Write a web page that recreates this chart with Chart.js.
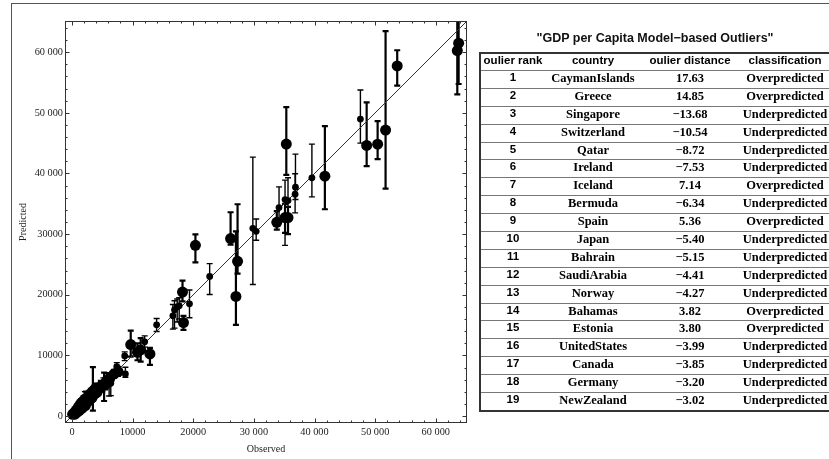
<!DOCTYPE html>
<html><head><meta charset="utf-8">
<script src="https://cdn.jsdelivr.net/npm/chart.js@4.4.1/dist/chart.umd.min.js"></script>
<style>
html,body{margin:0;padding:0;background:#fff;width:829px;height:459px;overflow:hidden;}
#wrap{position:relative;width:829px;height:459px;overflow:hidden;}
#c{position:absolute;left:0;top:0;}
#frame{position:absolute;left:11px;top:3px;width:900px;height:500px;border-left:1.5px solid #555;border-top:1.5px solid #555;}
#ttl{position:absolute;left:479px;width:352px;top:31px;text-align:center;font:bold 12.5px "Liberation Sans",Arial,sans-serif;color:#111;white-space:nowrap;}
#tbl{position:absolute;left:479px;top:52px;width:360px;border-top:2px solid #333;border-left:2px solid #333;border-bottom:2px solid #333;}
.row{display:flex;height:16.9px;line-height:16.9px;border-top:1px solid #777;white-space:nowrap;}
.row.hd{border-top:none;height:16px;line-height:16px;}
.row div{text-align:center;}
.c1{width:64px;font:bold 11.5px "Liberation Sans",Arial,sans-serif;}
.c2{width:96px;}
.c3{width:98px;}
.c4{width:92px;}
.row .s{font:bold 12.5px "Liberation Serif","Times New Roman",serif;}
.hd div{font:bold 11.5px "Liberation Sans",Arial,sans-serif;}
</style>
</head>
<body>
<div id="wrap">
<div id="frame"></div>
<canvas id="c" width="829" height="459"></canvas>
<div id="ttl"></div>
<div id="tbl"></div>
</div>
<script>
// ---------- tick labels ----------
const tickValues = [0, 10000, 20000, 30000, 40000, 50000, 60000];
const xTickLabels = ['0', '10000', '20000', '30 000', '40 000', '50 000', '60 000'];
const yTickLabels = ['0', '10000', '20000', '30000', '40 000', '50 000', '60 000'];

// ---------- group A (large markers): observed, predicted, lower, upper ----------
const groupAObserved = [48600, 50410, 51720, 53640, 63770, 63550, 35350, 41710, 33780, 35140, 35630, 26160, 27310, 27040, 20360, 18230, 18390, 9690, 11330, 12860, 10800, 7600, 6950, 5750, 5300, 4760, 4220, 3660, 3450, 3120, 2680, 2300, 1920, 1480, 1100, 710, 380, 110, 6200, 2500, 2900, 3300, 3800, 4100, 5500, 2200, 1700, 800, 1200, 500];
const groupAPredicted = [44630, 44840, 47160, 57740, 61490, 60280, 44850, 39560, 31950, 32730, 32730, 29260, 25510, 19720, 28150, 20450, 15420, 11790, 10910, 10250, 10500, 7320, 6940, 5840, 5120, 4840, 4580, 4300, 4020, 3750, 3190, 2920, 2530, 2100, 1540, 990, 550, 280, 6100, 2300, 2600, 3000, 3700, 3900, 5200, 1700, 1300, 600, 900, 300];
const groupALower = [41200, 42370, 37520, 54500, 54760, 53060, 39780, 34100, 30750, 30200, 30000, 28270, 23500, 15040, 25340, 18900, 14220, 9800, 8980, 8430, 9200, 6600, 6300, 4840, 2480, 4000, 3700, 3500, 880, 2800, 2400, 2000, 1800, 1400, 900, 500, 200, 0, 5500, 1700, 2000, 2500, 3100, 3300, 4400, 1200, 900, 300, 600, 100];
const groupAUpper = [51740, 48650, 63470, 60330, 68000, 68000, 50960, 47820, 33800, 35000, 34500, 33610, 34930, 30470, 29970, 22320, 16530, 14100, 12840, 11240, 12000, 8100, 7600, 7060, 7160, 5800, 5300, 5000, 8050, 4500, 4000, 4020, 3300, 2800, 2200, 1500, 900, 500, 6700, 2900, 3300, 3600, 4300, 4500, 6000, 2300, 1800, 900, 1300, 600];

// ---------- group B (small markers) ----------
const groupBObserved = [47570, 36860, 36800, 39570, 34150, 35140, 35630, 29830, 30380, 22710, 19380, 16640, 16910, 17350, 17680, 13960, 11990, 8700, 8810, 7390, 6400, 6130, 4500, 5000, 6000, 3000, 4000, 5200, 2130, 600, 900, 1300, 1700, 2000, 300];
const groupBPredicted = [48980, 37740, 36580, 39290, 34380, 35700, 35540, 30960, 30470, 23030, 18510, 16530, 17520, 17970, 18180, 15040, 12230, 9920, 6940, 8150, 5400, 5500, 4400, 4600, 5500, 3300, 4800, 5600, 2700, 400, 800, 1200, 1600, 2100, 500];
const groupBLower = [45010, 35700, 33500, 36150, 31900, 28150, 30080, 21700, 28980, 20050, 16200, 14330, 14500, 15500, 16000, 13940, 11360, 9140, 6400, 7500, 3360, 3300, 3800, 4000, 4900, 2700, 4200, 5000, 1540, 150, 500, 900, 1300, 1700, 200];
const groupBUpper = [53770, 43190, 39950, 44850, 37800, 38900, 39290, 42700, 32500, 25130, 20780, 18400, 19000, 19300, 19500, 16080, 13220, 10580, 8050, 8810, 6800, 6700, 5000, 5300, 6100, 3900, 5400, 6300, 4020, 700, 1100, 1500, 1900, 2500, 800];

// ---------- table ----------
const tableTitle = '"GDP per Capita Model\u2212based Outliers"';
const tableHeaders = ['oulier rank', 'country', 'oulier distance', 'classification'];
const ranks = [1, 2, 3, 4, 5, 6, 7, 8, 9, 10, 11, 12, 13, 14, 15, 16, 17, 18, 19];
const countries = ['CaymanIslands', 'Greece', 'Singapore', 'Switzerland', 'Qatar', 'Ireland', 'Iceland', 'Bermuda', 'Spain', 'Japan', 'Bahrain', 'SaudiArabia', 'Norway', 'Bahamas', 'Estonia', 'UnitedStates', 'Canada', 'Germany', 'NewZealand'];
const distances = ['17.63', '14.85', '\u221213.68', '\u221210.54', '\u22128.72', '\u22127.53', '7.14', '\u22126.34', '5.36', '\u22125.40', '\u22125.15', '\u22124.41', '\u22124.27', '3.82', '3.80', '\u22123.99', '\u22123.85', '\u22123.20', '\u22123.02'];
const classifications = ['Overpredicted', 'Overpredicted', 'Underpredicted', 'Underpredicted', 'Underpredicted', 'Underpredicted', 'Overpredicted', 'Underpredicted', 'Overpredicted', 'Underpredicted', 'Underpredicted', 'Underpredicted', 'Underpredicted', 'Overpredicted', 'Overpredicted', 'Underpredicted', 'Underpredicted', 'Underpredicted', 'Underpredicted'];

const axisMin = -1150, axisMax = 65150;

// build table
document.getElementById('ttl').textContent = tableTitle;
const tbl = document.getElementById('tbl');
function mkRow(cells, cls, serif) {
  const r = document.createElement('div');
  r.className = 'row' + (cls ? ' ' + cls : '');
  cells.forEach((t, i) => {
    const d = document.createElement('div');
    d.className = 'c' + (i + 1) + (serif && i > 0 ? ' s' : '');
    d.textContent = t;
    r.appendChild(d);
  });
  tbl.appendChild(r);
}
mkRow(tableHeaders, 'hd', false);
ranks.forEach((rk, i) => mkRow([String(rk), countries[i], distances[i], classifications[i]], '', true));

function pts(xs, ys) { return xs.map((x, i) => ({ x: x, y: ys[i] })); }

const errorBars = {
  id: 'errorBars',
  beforeDatasetsDraw(chart) {
    const { ctx, chartArea: a, scales } = chart;
    const sx = scales.x, sy = scales.y;
    ctx.save();
    ctx.beginPath();
    ctx.rect(a.left, a.top, a.right - a.left, a.bottom - a.top);
    ctx.clip();
    ctx.strokeStyle = '#000';
    const groups = [
      [groupAObserved, groupALower, groupAUpper, 2.2],
      [groupBObserved, groupBLower, groupBUpper, 1.4]
    ];
    groups.forEach(([xs, lo, hi, w]) => {
      ctx.lineWidth = w;
      xs.forEach((xv, i) => {
        const px = sx.getPixelForValue(xv);
        const pl = sy.getPixelForValue(lo[i]);
        const ph = sy.getPixelForValue(hi[i]);
        ctx.beginPath();
        ctx.moveTo(px, pl); ctx.lineTo(px, ph);
        ctx.moveTo(px - 3, pl); ctx.lineTo(px + 3, pl);
        ctx.moveTo(px - 3, ph); ctx.lineTo(px + 3, ph);
        ctx.stroke();
      });
    });
    ctx.restore();
  }
};

const frameTicks = {
  id: 'frameTicks',
  afterDraw(chart) {
    const { ctx, chartArea: a, scales } = chart;
    const sx = scales.x, sy = scales.y;
    ctx.save();
    ctx.strokeStyle = '#333';
    ctx.lineWidth = 1;
    ctx.strokeRect(Math.round(a.left) + 0.5, Math.round(a.top) + 0.5, Math.round(a.right - a.left) - 1, Math.round(a.bottom - a.top) - 1);
    ctx.beginPath();
    for (let v = 0; v <= 64000; v += 2000) {
      const len = v % 10000 === 0 ? 4.5 : 2.5;
      const px = Math.round(sx.getPixelForValue(v)) + 0.5;
      ctx.moveTo(px, a.bottom); ctx.lineTo(px, a.bottom - len);
      ctx.moveTo(px, a.top); ctx.lineTo(px, a.top + len);
      const py = Math.round(sy.getPixelForValue(v)) + 0.5;
      ctx.moveTo(a.left, py); ctx.lineTo(a.left + len, py);
      ctx.moveTo(a.right, py); ctx.lineTo(a.right - len, py);
    }
    ctx.stroke();
    ctx.restore();
  }
};

new Chart(document.getElementById('c'), {
  type: 'scatter',
  data: {
    datasets: [
      { data: pts(groupAObserved, groupAPredicted), pointRadius: 5.5, pointBackgroundColor: '#000', pointBorderWidth: 0, pointBorderColor: '#000' },
      { data: pts(groupBObserved, groupBPredicted), pointRadius: 3.4, pointBackgroundColor: '#000', pointBorderWidth: 0, pointBorderColor: '#000' },
      { type: 'line', data: [{ x: axisMin, y: axisMin }, { x: axisMax, y: axisMax }], borderColor: '#333', borderWidth: 1, pointRadius: 0, fill: false }
    ]
  },
  options: {
    responsive: false,
    animation: false,
    devicePixelRatio: 1,
    layout: { padding: { left: 11, top: 21, right: 362, bottom: 0 } },
    plugins: { legend: { display: false }, tooltip: { enabled: false } },
    scales: {
      x: {
        type: 'linear', min: axisMin, max: axisMax,
        grid: { display: false, drawTicks: false }, border: { display: false },
        afterBuildTicks: s => { s.ticks = tickValues.map(v => ({ value: v })); },
        ticks: { callback: v => xTickLabels[tickValues.indexOf(v)], font: { family: 'Liberation Serif', size: 10.3 }, color: '#222', padding: 3, maxRotation: 0, minRotation: 0, autoSkip: false },
        title: { display: true, text: 'Observed', font: { family: 'Liberation Serif', size: 10 }, color: '#222', padding: { top: 0, bottom: 4 } },
        afterFit: s => { s.height = 36; }
      },
      y: {
        type: 'linear', min: axisMin, max: axisMax,
        grid: { display: false, drawTicks: false }, border: { display: false },
        afterBuildTicks: s => { s.ticks = tickValues.map(v => ({ value: v })); },
        ticks: { callback: v => yTickLabels[tickValues.indexOf(v)], font: { family: 'Liberation Serif', size: 10.3 }, color: '#222', padding: 2, autoSkip: false },
        title: { display: true, text: 'Predicted', font: { family: 'Liberation Serif', size: 10 }, color: '#222', padding: { top: 6, bottom: 0 } },
        afterFit: s => { s.width = 54; }
      }
    }
  },
  plugins: [errorBars, frameTicks]
});
</script>
</body></html>
